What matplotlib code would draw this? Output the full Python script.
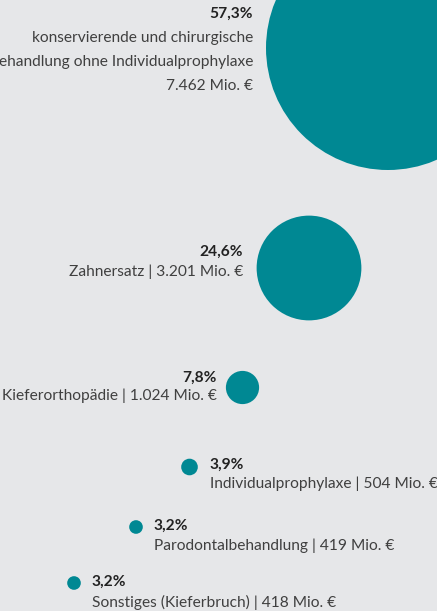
import matplotlib.pyplot as plt
from matplotlib.patches import Circle

# data
shares = [57.3, 24.6, 7.8, 3.9, 3.2, 3.2]
share_labels = ['57,3%', '24,6%', '7,8%', '3,9%', '3,2%', '3,2%']
names = ['konservierende und chirurgische\nBehandlung ohne Individualprophylaxe\n7.462 Mio. €',
         'Zahnersatz | 3.201 Mio. €',
         'Kieferorthopädie | 1.024 Mio. €',
         'Individualprophylaxe | 504 Mio. €',
         'Parodontalbehandlung | 419 Mio. €',
         'Sonstiges (Kieferbruch) | 418 Mio. €']

# layout (pixel space)
cx = [388, 309, 242.5, 189.5, 136, 74]
cy = [48, 268, 387.5, 467, 527, 583]
side = ['left', 'left', 'left', 'right', 'right', 'right']
gap = [13, 13.5, 9.5, 12, 11, 11]
pct_y = [14, 252, 378, 465, 526, 582]
name_y = [38, 272, 396, 484, 546, 602]
line_gap = 24
px_per_pct = 122 / 57.3

bg = '#e6e7e9'
teal = '#008893'
txt = '#404040'
font = 'Lato'
fs = 11.2

fig = plt.figure(figsize=(4.37, 6.11), dpi=100, facecolor=bg)
ax = fig.add_axes([0, 0, 1, 1])
ax.set_facecolor(bg)
ax.set_xlim(0, 437)
ax.set_ylim(611, 0)
ax.axis('off')

for i, v in enumerate(shares):
    r = v * px_per_pct
    ax.add_patch(Circle((cx[i], cy[i]), r, color=teal, lw=0))
    if side[i] == 'left':
        x = cx[i] - r - gap[i]
        ha = 'right'
    else:
        x = cx[i] + r + gap[i]
        ha = 'left'
    ax.text(x, pct_y[i], share_labels[i], ha=ha, va='center', fontsize=fs,
            fontweight='bold', color='#222222', family=font)
    for j, line in enumerate(names[i].split('\n')):
        ax.text(x, name_y[i] + j * line_gap, line, ha=ha, va='center',
                fontsize=fs, color=txt, family=font)

fig.savefig('out.png', dpi=100, facecolor=bg)
